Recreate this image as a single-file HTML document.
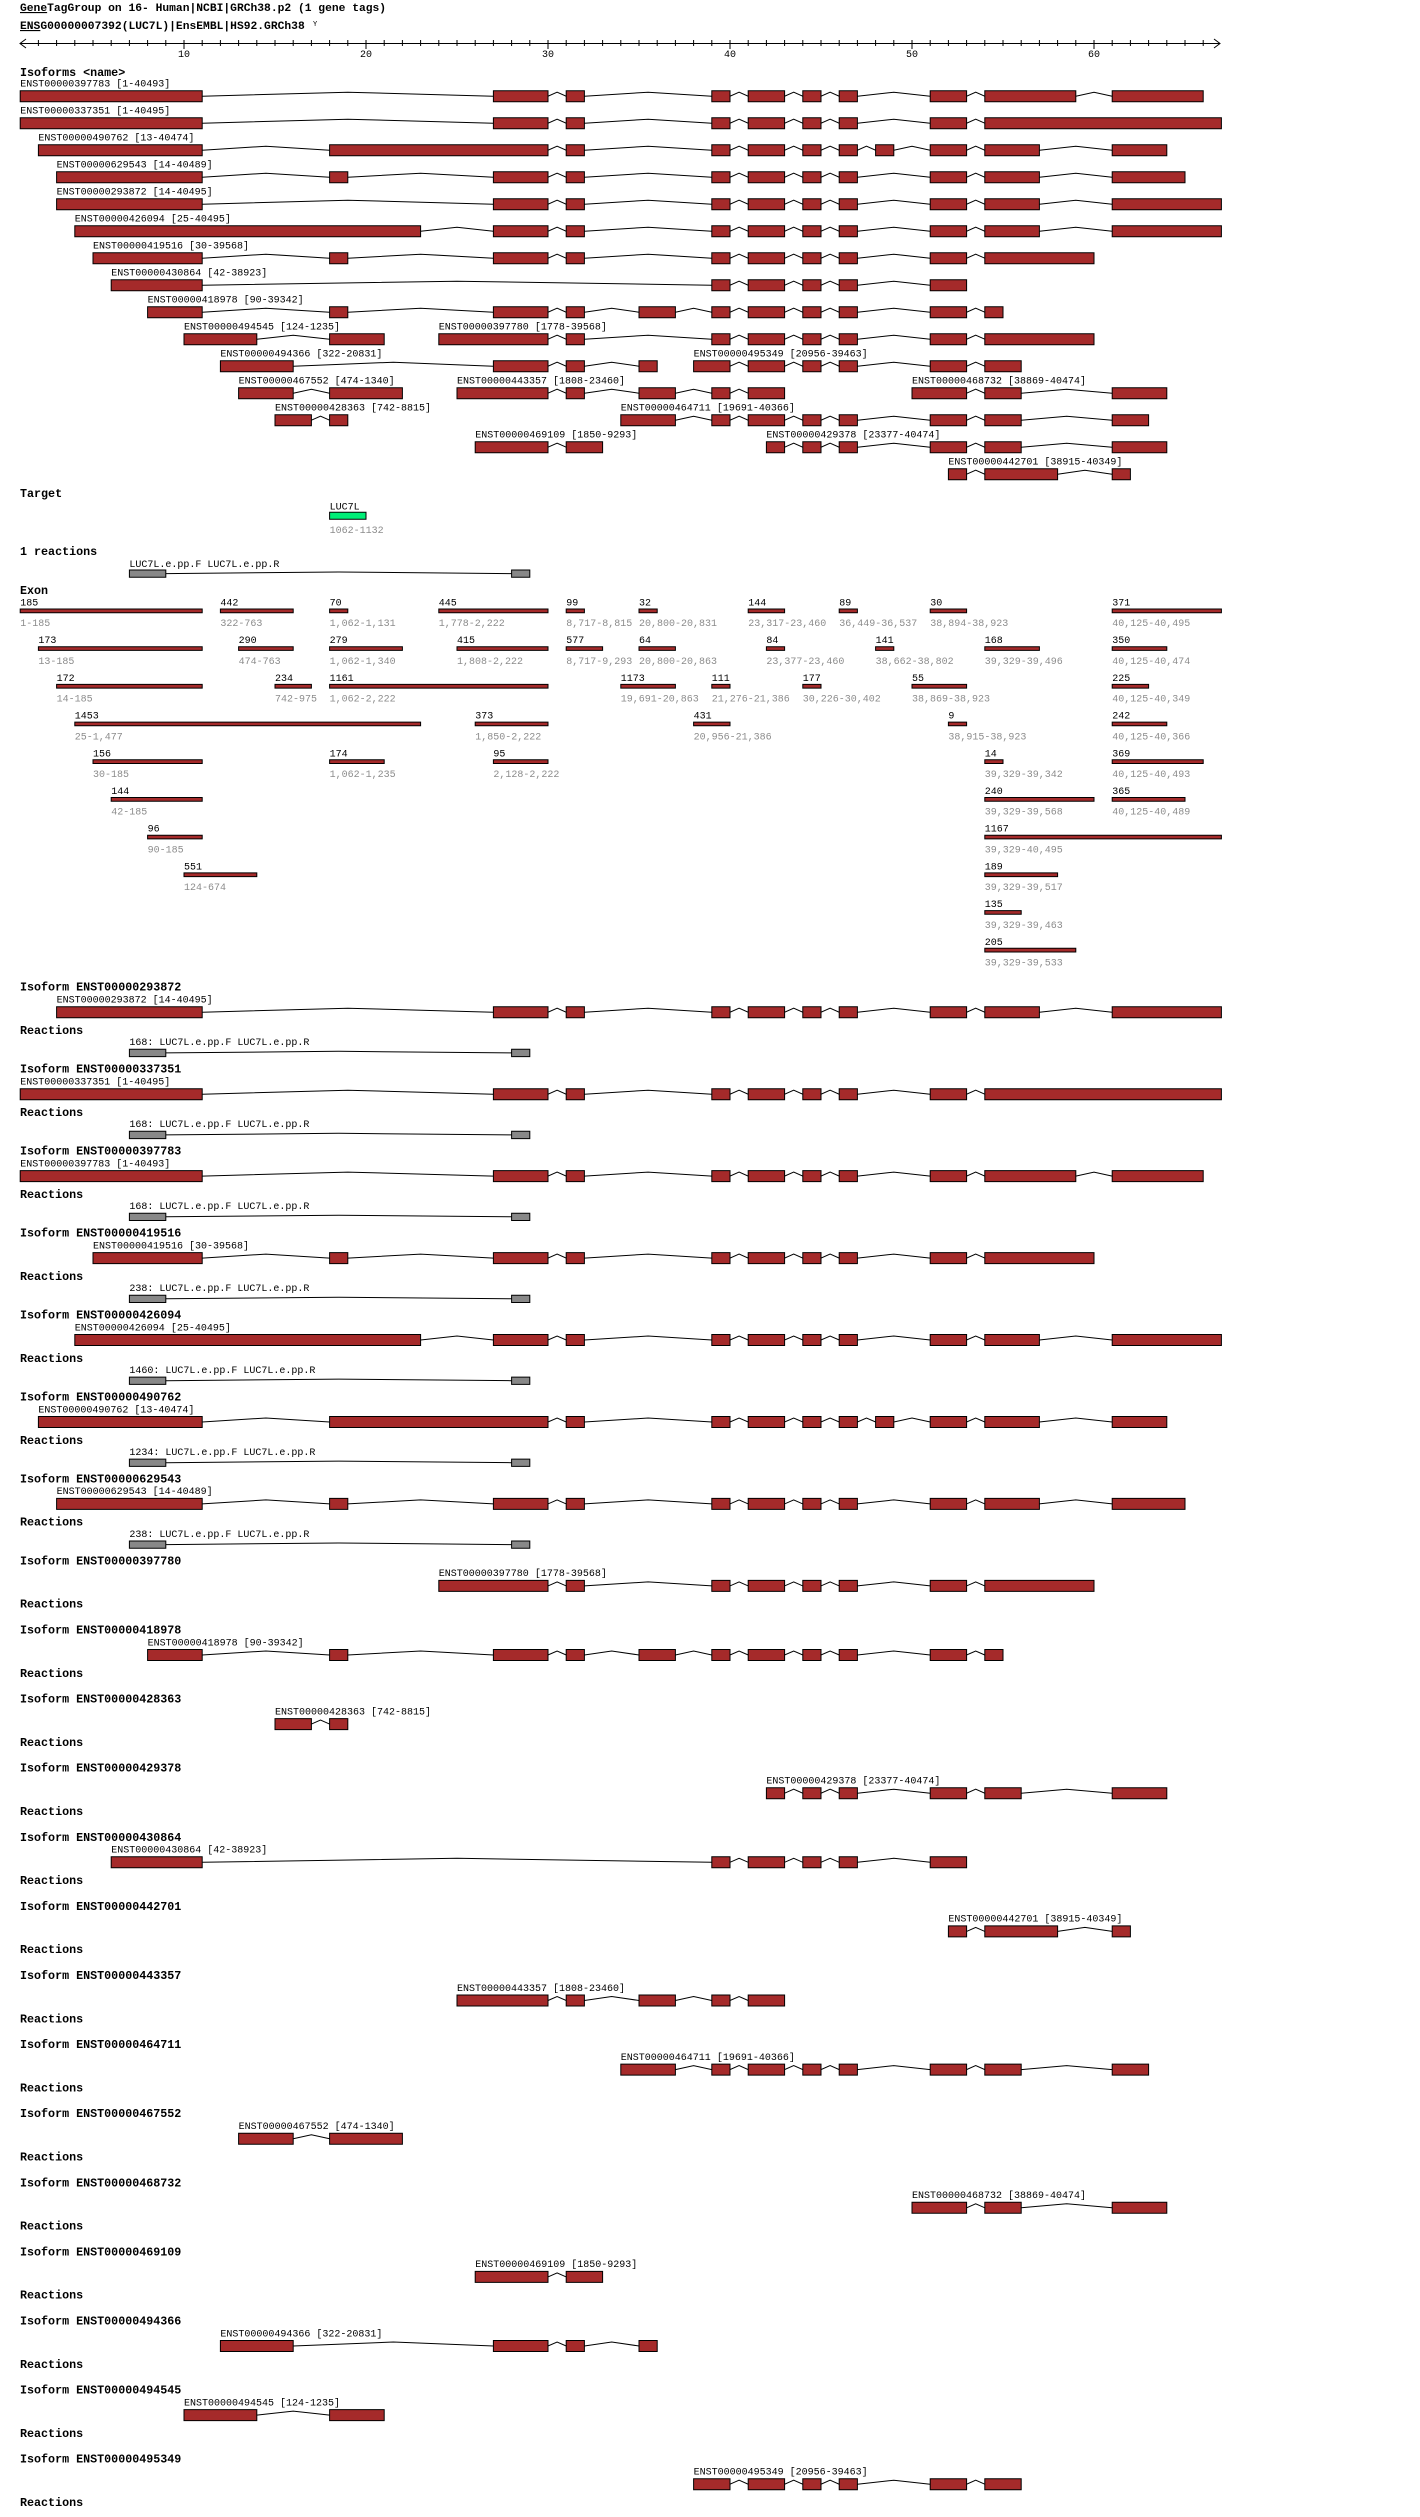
<!DOCTYPE html>
<html><head><meta charset="utf-8"><style>
html,body{margin:0;padding:0;background:#fff;}
svg{display:block;}
text{font-family:"Liberation Mono",monospace;font-size:10px;fill:#000;}
.b{font-weight:bold;font-size:11.7px;}
.h{font-weight:bold;font-size:11.3px;}
.g{fill:#8c8c8c;}
.e{fill:#a52a2a;stroke:#000;stroke-width:1;vector-effect:non-scaling-stroke;}
.gr{fill:#888;stroke:#000;stroke-width:1;vector-effect:non-scaling-stroke;}
.gn{fill:#00ee77;stroke:#000;stroke-width:1;vector-effect:non-scaling-stroke;}
.l{fill:none;stroke:#000;stroke-width:1;vector-effect:non-scaling-stroke;}
</style></head><body>
<svg width="1420" height="2517" viewBox="0 0 1420 2517" xmlns="http://www.w3.org/2000/svg">
<defs>
<pattern id="tk" patternUnits="userSpaceOnUse" x="37.9" y="0" width="18.2" height="100"><rect x="0" y="40" width="1" height="6" fill="#000"/></pattern>
<g id="m397783"><polyline class="l" points="11,5.5 19,1.5 27,5.5 30,5.5 30.5,1.5 31,5.5 32,5.5 35.5,1.5 39,5.5 40,5.5 40.5,1.5 41,5.5 43,5.5 43.5,1.5 44,5.5 45,5.5 45.5,1.5 46,5.5 47,5.5 49,1.5 51,5.5 53,5.5 53.5,1.5 54,5.5 59,5.5 60,1.5 61,5.5"/>
<rect class="e" x="1" y="0" width="10" height="11"/><rect class="e" x="27" y="0" width="3" height="11"/><rect class="e" x="31" y="0" width="1" height="11"/><rect class="e" x="39" y="0" width="1" height="11"/><rect class="e" x="41" y="0" width="2" height="11"/><rect class="e" x="44" y="0" width="1" height="11"/><rect class="e" x="46" y="0" width="1" height="11"/><rect class="e" x="51" y="0" width="2" height="11"/><rect class="e" x="54" y="0" width="5" height="11"/><rect class="e" x="61" y="0" width="5" height="11"/></g>
<g id="m337351"><polyline class="l" points="11,5.5 19,1.5 27,5.5 30,5.5 30.5,1.5 31,5.5 32,5.5 35.5,1.5 39,5.5 40,5.5 40.5,1.5 41,5.5 43,5.5 43.5,1.5 44,5.5 45,5.5 45.5,1.5 46,5.5 47,5.5 49,1.5 51,5.5 53,5.5 53.5,1.5 54,5.5"/>
<rect class="e" x="1" y="0" width="10" height="11"/><rect class="e" x="27" y="0" width="3" height="11"/><rect class="e" x="31" y="0" width="1" height="11"/><rect class="e" x="39" y="0" width="1" height="11"/><rect class="e" x="41" y="0" width="2" height="11"/><rect class="e" x="44" y="0" width="1" height="11"/><rect class="e" x="46" y="0" width="1" height="11"/><rect class="e" x="51" y="0" width="2" height="11"/><rect class="e" x="54" y="0" width="13" height="11"/></g>
<g id="m490762"><polyline class="l" points="11,5.5 14.5,1.5 18,5.5 30,5.5 30.5,1.5 31,5.5 32,5.5 35.5,1.5 39,5.5 40,5.5 40.5,1.5 41,5.5 43,5.5 43.5,1.5 44,5.5 45,5.5 45.5,1.5 46,5.5 47,5.5 47.5,1.5 48,5.5 49,5.5 50,1.5 51,5.5 53,5.5 53.5,1.5 54,5.5 57,5.5 59,1.5 61,5.5"/>
<rect class="e" x="2" y="0" width="9" height="11"/><rect class="e" x="18" y="0" width="12" height="11"/><rect class="e" x="31" y="0" width="1" height="11"/><rect class="e" x="39" y="0" width="1" height="11"/><rect class="e" x="41" y="0" width="2" height="11"/><rect class="e" x="44" y="0" width="1" height="11"/><rect class="e" x="46" y="0" width="1" height="11"/><rect class="e" x="48" y="0" width="1" height="11"/><rect class="e" x="51" y="0" width="2" height="11"/><rect class="e" x="54" y="0" width="3" height="11"/><rect class="e" x="61" y="0" width="3" height="11"/></g>
<g id="m629543"><polyline class="l" points="11,5.5 14.5,1.5 18,5.5 19,5.5 23,1.5 27,5.5 30,5.5 30.5,1.5 31,5.5 32,5.5 35.5,1.5 39,5.5 40,5.5 40.5,1.5 41,5.5 43,5.5 43.5,1.5 44,5.5 45,5.5 45.5,1.5 46,5.5 47,5.5 49,1.5 51,5.5 53,5.5 53.5,1.5 54,5.5 57,5.5 59,1.5 61,5.5"/>
<rect class="e" x="3" y="0" width="8" height="11"/><rect class="e" x="18" y="0" width="1" height="11"/><rect class="e" x="27" y="0" width="3" height="11"/><rect class="e" x="31" y="0" width="1" height="11"/><rect class="e" x="39" y="0" width="1" height="11"/><rect class="e" x="41" y="0" width="2" height="11"/><rect class="e" x="44" y="0" width="1" height="11"/><rect class="e" x="46" y="0" width="1" height="11"/><rect class="e" x="51" y="0" width="2" height="11"/><rect class="e" x="54" y="0" width="3" height="11"/><rect class="e" x="61" y="0" width="4" height="11"/></g>
<g id="m293872"><polyline class="l" points="11,5.5 19,1.5 27,5.5 30,5.5 30.5,1.5 31,5.5 32,5.5 35.5,1.5 39,5.5 40,5.5 40.5,1.5 41,5.5 43,5.5 43.5,1.5 44,5.5 45,5.5 45.5,1.5 46,5.5 47,5.5 49,1.5 51,5.5 53,5.5 53.5,1.5 54,5.5 57,5.5 59,1.5 61,5.5"/>
<rect class="e" x="3" y="0" width="8" height="11"/><rect class="e" x="27" y="0" width="3" height="11"/><rect class="e" x="31" y="0" width="1" height="11"/><rect class="e" x="39" y="0" width="1" height="11"/><rect class="e" x="41" y="0" width="2" height="11"/><rect class="e" x="44" y="0" width="1" height="11"/><rect class="e" x="46" y="0" width="1" height="11"/><rect class="e" x="51" y="0" width="2" height="11"/><rect class="e" x="54" y="0" width="3" height="11"/><rect class="e" x="61" y="0" width="6" height="11"/></g>
<g id="m426094"><polyline class="l" points="23,5.5 25,1.5 27,5.5 30,5.5 30.5,1.5 31,5.5 32,5.5 35.5,1.5 39,5.5 40,5.5 40.5,1.5 41,5.5 43,5.5 43.5,1.5 44,5.5 45,5.5 45.5,1.5 46,5.5 47,5.5 49,1.5 51,5.5 53,5.5 53.5,1.5 54,5.5 57,5.5 59,1.5 61,5.5"/>
<rect class="e" x="4" y="0" width="19" height="11"/><rect class="e" x="27" y="0" width="3" height="11"/><rect class="e" x="31" y="0" width="1" height="11"/><rect class="e" x="39" y="0" width="1" height="11"/><rect class="e" x="41" y="0" width="2" height="11"/><rect class="e" x="44" y="0" width="1" height="11"/><rect class="e" x="46" y="0" width="1" height="11"/><rect class="e" x="51" y="0" width="2" height="11"/><rect class="e" x="54" y="0" width="3" height="11"/><rect class="e" x="61" y="0" width="6" height="11"/></g>
<g id="m419516"><polyline class="l" points="11,5.5 14.5,1.5 18,5.5 19,5.5 23,1.5 27,5.5 30,5.5 30.5,1.5 31,5.5 32,5.5 35.5,1.5 39,5.5 40,5.5 40.5,1.5 41,5.5 43,5.5 43.5,1.5 44,5.5 45,5.5 45.5,1.5 46,5.5 47,5.5 49,1.5 51,5.5 53,5.5 53.5,1.5 54,5.5"/>
<rect class="e" x="5" y="0" width="6" height="11"/><rect class="e" x="18" y="0" width="1" height="11"/><rect class="e" x="27" y="0" width="3" height="11"/><rect class="e" x="31" y="0" width="1" height="11"/><rect class="e" x="39" y="0" width="1" height="11"/><rect class="e" x="41" y="0" width="2" height="11"/><rect class="e" x="44" y="0" width="1" height="11"/><rect class="e" x="46" y="0" width="1" height="11"/><rect class="e" x="51" y="0" width="2" height="11"/><rect class="e" x="54" y="0" width="6" height="11"/></g>
<g id="m430864"><polyline class="l" points="11,5.5 25,1.5 39,5.5 40,5.5 40.5,1.5 41,5.5 43,5.5 43.5,1.5 44,5.5 45,5.5 45.5,1.5 46,5.5 47,5.5 49,1.5 51,5.5"/>
<rect class="e" x="6" y="0" width="5" height="11"/><rect class="e" x="39" y="0" width="1" height="11"/><rect class="e" x="41" y="0" width="2" height="11"/><rect class="e" x="44" y="0" width="1" height="11"/><rect class="e" x="46" y="0" width="1" height="11"/><rect class="e" x="51" y="0" width="2" height="11"/></g>
<g id="m418978"><polyline class="l" points="11,5.5 14.5,1.5 18,5.5 19,5.5 23,1.5 27,5.5 30,5.5 30.5,1.5 31,5.5 32,5.5 33.5,1.5 35,5.5 37,5.5 38,1.5 39,5.5 40,5.5 40.5,1.5 41,5.5 43,5.5 43.5,1.5 44,5.5 45,5.5 45.5,1.5 46,5.5 47,5.5 49,1.5 51,5.5 53,5.5 53.5,1.5 54,5.5"/>
<rect class="e" x="8" y="0" width="3" height="11"/><rect class="e" x="18" y="0" width="1" height="11"/><rect class="e" x="27" y="0" width="3" height="11"/><rect class="e" x="31" y="0" width="1" height="11"/><rect class="e" x="35" y="0" width="2" height="11"/><rect class="e" x="39" y="0" width="1" height="11"/><rect class="e" x="41" y="0" width="2" height="11"/><rect class="e" x="44" y="0" width="1" height="11"/><rect class="e" x="46" y="0" width="1" height="11"/><rect class="e" x="51" y="0" width="2" height="11"/><rect class="e" x="54" y="0" width="1" height="11"/></g>
<g id="m494545"><polyline class="l" points="14,5.5 16,1.5 18,5.5"/><rect class="e" x="10" y="0" width="4" height="11"/><rect class="e" x="18" y="0" width="3" height="11"/></g>
<g id="m397780"><polyline class="l" points="30,5.5 30.5,1.5 31,5.5 32,5.5 35.5,1.5 39,5.5 40,5.5 40.5,1.5 41,5.5 43,5.5 43.5,1.5 44,5.5 45,5.5 45.5,1.5 46,5.5 47,5.5 49,1.5 51,5.5 53,5.5 53.5,1.5 54,5.5"/>
<rect class="e" x="24" y="0" width="6" height="11"/><rect class="e" x="31" y="0" width="1" height="11"/><rect class="e" x="39" y="0" width="1" height="11"/><rect class="e" x="41" y="0" width="2" height="11"/><rect class="e" x="44" y="0" width="1" height="11"/><rect class="e" x="46" y="0" width="1" height="11"/><rect class="e" x="51" y="0" width="2" height="11"/><rect class="e" x="54" y="0" width="6" height="11"/></g>
<g id="m494366"><polyline class="l" points="16,5.5 21.5,1.5 27,5.5 30,5.5 30.5,1.5 31,5.5 32,5.5 33.5,1.5 35,5.5"/>
<rect class="e" x="12" y="0" width="4" height="11"/><rect class="e" x="27" y="0" width="3" height="11"/><rect class="e" x="31" y="0" width="1" height="11"/><rect class="e" x="35" y="0" width="1" height="11"/></g>
<g id="m495349"><polyline class="l" points="40,5.5 40.5,1.5 41,5.5 43,5.5 43.5,1.5 44,5.5 45,5.5 45.5,1.5 46,5.5 47,5.5 49,1.5 51,5.5 53,5.5 53.5,1.5 54,5.5"/>
<rect class="e" x="38" y="0" width="2" height="11"/><rect class="e" x="41" y="0" width="2" height="11"/><rect class="e" x="44" y="0" width="1" height="11"/><rect class="e" x="46" y="0" width="1" height="11"/><rect class="e" x="51" y="0" width="2" height="11"/><rect class="e" x="54" y="0" width="2" height="11"/></g>
<g id="m467552"><polyline class="l" points="16,5.5 17,1.5 18,5.5"/><rect class="e" x="13" y="0" width="3" height="11"/><rect class="e" x="18" y="0" width="4" height="11"/></g>
<g id="m443357"><polyline class="l" points="30,5.5 30.5,1.5 31,5.5 32,5.5 33.5,1.5 35,5.5 37,5.5 38,1.5 39,5.5 40,5.5 40.5,1.5 41,5.5"/>
<rect class="e" x="25" y="0" width="5" height="11"/><rect class="e" x="31" y="0" width="1" height="11"/><rect class="e" x="35" y="0" width="2" height="11"/><rect class="e" x="39" y="0" width="1" height="11"/><rect class="e" x="41" y="0" width="2" height="11"/></g>
<g id="m468732"><polyline class="l" points="53,5.5 53.5,1.5 54,5.5 56,5.5 58.5,1.5 61,5.5"/><rect class="e" x="50" y="0" width="3" height="11"/><rect class="e" x="54" y="0" width="2" height="11"/><rect class="e" x="61" y="0" width="3" height="11"/></g>
<g id="m428363"><polyline class="l" points="17,5.5 17.5,1.5 18,5.5"/><rect class="e" x="15" y="0" width="2" height="11"/><rect class="e" x="18" y="0" width="1" height="11"/></g>
<g id="m464711"><polyline class="l" points="37,5.5 38,1.5 39,5.5 40,5.5 40.5,1.5 41,5.5 43,5.5 43.5,1.5 44,5.5 45,5.5 45.5,1.5 46,5.5 47,5.5 49,1.5 51,5.5 53,5.5 53.5,1.5 54,5.5 56,5.5 58.5,1.5 61,5.5"/>
<rect class="e" x="34" y="0" width="3" height="11"/><rect class="e" x="39" y="0" width="1" height="11"/><rect class="e" x="41" y="0" width="2" height="11"/><rect class="e" x="44" y="0" width="1" height="11"/><rect class="e" x="46" y="0" width="1" height="11"/><rect class="e" x="51" y="0" width="2" height="11"/><rect class="e" x="54" y="0" width="2" height="11"/><rect class="e" x="61" y="0" width="2" height="11"/></g>
<g id="m469109"><polyline class="l" points="30,5.5 30.5,1.5 31,5.5"/><rect class="e" x="26" y="0" width="4" height="11"/><rect class="e" x="31" y="0" width="2" height="11"/></g>
<g id="m429378"><polyline class="l" points="43,5.5 43.5,1.5 44,5.5 45,5.5 45.5,1.5 46,5.5 47,5.5 49,1.5 51,5.5 53,5.5 53.5,1.5 54,5.5 56,5.5 58.5,1.5 61,5.5"/>
<rect class="e" x="42" y="0" width="1" height="11"/><rect class="e" x="44" y="0" width="1" height="11"/><rect class="e" x="46" y="0" width="1" height="11"/><rect class="e" x="51" y="0" width="2" height="11"/><rect class="e" x="54" y="0" width="2" height="11"/><rect class="e" x="61" y="0" width="3" height="11"/></g>
<g id="m442701"><polyline class="l" points="53,5.5 53.5,1.5 54,5.5 58,5.5 59.5,1.5 61,5.5"/><rect class="e" x="52" y="0" width="1" height="11"/><rect class="e" x="54" y="0" width="4" height="11"/><rect class="e" x="61" y="0" width="1" height="11"/></g>
<g id="mr"><polyline class="l" points="9,3.6 18.5,2 28,3.6"/><rect class="gr" x="7" y="0" width="2" height="7.3"/><rect class="gr" x="28" y="0" width="1" height="7.3"/></g>
</defs>

<!-- header -->
<text class="h" x="20" y="11"><tspan text-decoration="underline">Gene</tspan>TagGroup on 16- Human|NCBI|GRCh38.p2 (1 gene tags)</text>
<text class="h" x="20" y="29"><tspan text-decoration="underline">ENS</tspan>G00000007392(LUC7L)|EnsEMBL|HS92.GRCh38</text>
<text x="313" y="26" style="font-size:7px">Y</text>
<!-- axis -->
<line x1="20" y1="43.5" x2="1220" y2="43.5" stroke="#000"/>
<polyline points="26,39 20,43.5 26,48" fill="none" stroke="#000"/>
<polyline points="1214,39 1220,43.5 1214,48" fill="none" stroke="#000"/>
<rect x="37" y="40" width="1168" height="6" fill="url(#tk)"/>
<path d="M184 40v9M366 40v9M548 40v9M730 40v9M912 40v9M1094 40v9" stroke="#000"/>
<g style="font-size:10px"><text x="178" y="57">10</text><text x="360" y="57">20</text><text x="542" y="57">30</text><text x="724" y="57">40</text><text x="906" y="57">50</text><text x="1088" y="57">60</text></g>

<text class="b" x="20" y="76">Isoforms &lt;name&gt;</text>
<text x="20.2" y="86.7">ENST00000397783 [1-40493]</text>
<text x="20.2" y="113.7">ENST00000337351 [1-40495]</text>
<text x="38.4" y="140.7">ENST00000490762 [13-40474]</text>
<text x="56.6" y="167.7">ENST00000629543 [14-40489]</text>
<text x="56.6" y="194.7">ENST00000293872 [14-40495]</text>
<text x="74.8" y="221.7">ENST00000426094 [25-40495]</text>
<text x="93" y="248.7">ENST00000419516 [30-39568]</text>
<text x="111.2" y="275.7">ENST00000430864 [42-38923]</text>
<text x="147.6" y="302.7">ENST00000418978 [90-39342]</text>
<text x="184" y="329.7">ENST00000494545 [124-1235]</text><text x="438.8" y="329.7">ENST00000397780 [1778-39568]</text>
<text x="220.4" y="356.7">ENST00000494366 [322-20831]</text><text x="693.6" y="356.7">ENST00000495349 [20956-39463]</text>
<text x="238.6" y="383.7">ENST00000467552 [474-1340]</text><text x="457" y="383.7">ENST00000443357 [1808-23460]</text><text x="912" y="383.7">ENST00000468732 [38869-40474]</text>
<text x="275" y="410.7">ENST00000428363 [742-8815]</text><text x="620.8" y="410.7">ENST00000464711 [19691-40366]</text>
<text x="475.2" y="437.7">ENST00000469109 [1850-9293]</text><text x="766.4" y="437.7">ENST00000429378 [23377-40474]</text>
<text x="948.4" y="464.7">ENST00000442701 [38915-40349]</text>

<g transform="translate(2 0) scale(18.2 1)">
<use href="#m397783" y="90.7"/>
<use href="#m337351" y="117.7"/>
<use href="#m490762" y="144.7"/>
<use href="#m629543" y="171.7"/>
<use href="#m293872" y="198.7"/>
<use href="#m426094" y="225.7"/>
<use href="#m419516" y="252.7"/>
<use href="#m430864" y="279.7"/>
<use href="#m418978" y="306.7"/>
<use href="#m494545" y="333.7"/><use href="#m397780" y="333.7"/>
<use href="#m494366" y="360.7"/><use href="#m495349" y="360.7"/>
<use href="#m467552" y="387.7"/><use href="#m443357" y="387.7"/><use href="#m468732" y="387.7"/>
<use href="#m428363" y="414.7"/><use href="#m464711" y="414.7"/>
<use href="#m469109" y="441.7"/><use href="#m429378" y="441.7"/>
<use href="#m442701" y="468.7"/>

<rect class="gn" x="18" y="512.3" width="2" height="7"/>
<use href="#mr" y="570"/>

<!-- exon bars -->
<rect class="e" x="1" y="609" width="10" height="3.7"/><rect class="e" x="12" y="609" width="4" height="3.7"/><rect class="e" x="18" y="609" width="1" height="3.7"/><rect class="e" x="24" y="609" width="6" height="3.7"/><rect class="e" x="31" y="609" width="1" height="3.7"/><rect class="e" x="35" y="609" width="1" height="3.7"/><rect class="e" x="41" y="609" width="2" height="3.7"/><rect class="e" x="46" y="609" width="1" height="3.7"/><rect class="e" x="51" y="609" width="2" height="3.7"/><rect class="e" x="61" y="609" width="6" height="3.7"/>
<rect class="e" x="2" y="646.7" width="9" height="3.7"/><rect class="e" x="13" y="646.7" width="3" height="3.7"/><rect class="e" x="18" y="646.7" width="4" height="3.7"/><rect class="e" x="25" y="646.7" width="5" height="3.7"/><rect class="e" x="31" y="646.7" width="2" height="3.7"/><rect class="e" x="35" y="646.7" width="2" height="3.7"/><rect class="e" x="42" y="646.7" width="1" height="3.7"/><rect class="e" x="48" y="646.7" width="1" height="3.7"/><rect class="e" x="54" y="646.7" width="3" height="3.7"/><rect class="e" x="61" y="646.7" width="3" height="3.7"/>
<rect class="e" x="3" y="684.4" width="8" height="3.7"/><rect class="e" x="15" y="684.4" width="2" height="3.7"/><rect class="e" x="18" y="684.4" width="12" height="3.7"/><rect class="e" x="34" y="684.4" width="3" height="3.7"/><rect class="e" x="39" y="684.4" width="1" height="3.7"/><rect class="e" x="44" y="684.4" width="1" height="3.7"/><rect class="e" x="50" y="684.4" width="3" height="3.7"/><rect class="e" x="61" y="684.4" width="2" height="3.7"/>
<rect class="e" x="4" y="722.1" width="19" height="3.7"/><rect class="e" x="26" y="722.1" width="4" height="3.7"/><rect class="e" x="38" y="722.1" width="2" height="3.7"/><rect class="e" x="52" y="722.1" width="1" height="3.7"/><rect class="e" x="61" y="722.1" width="3" height="3.7"/>
<rect class="e" x="5" y="759.8" width="6" height="3.7"/><rect class="e" x="18" y="759.8" width="3" height="3.7"/><rect class="e" x="27" y="759.8" width="3" height="3.7"/><rect class="e" x="54" y="759.8" width="1" height="3.7"/><rect class="e" x="61" y="759.8" width="5" height="3.7"/>
<rect class="e" x="6" y="797.5" width="5" height="3.7"/><rect class="e" x="54" y="797.5" width="6" height="3.7"/><rect class="e" x="61" y="797.5" width="4" height="3.7"/>
<rect class="e" x="8" y="835.2" width="3" height="3.7"/><rect class="e" x="54" y="835.2" width="13" height="3.7"/>
<rect class="e" x="10" y="872.9" width="4" height="3.7"/><rect class="e" x="54" y="872.9" width="4" height="3.7"/>
<rect class="e" x="54" y="910.6" width="2" height="3.7"/>
<rect class="e" x="54" y="948.3" width="5" height="3.7"/>

<!-- sections -->
<use href="#m293872" y="1006.7"/><use href="#mr" y="1049.3"/>
<use href="#m337351" y="1088.7"/><use href="#mr" y="1131.3"/>
<use href="#m397783" y="1170.6"/><use href="#mr" y="1213.2"/>
<use href="#m419516" y="1252.6"/><use href="#mr" y="1295.2"/>
<use href="#m426094" y="1334.5"/><use href="#mr" y="1377.1"/>
<use href="#m490762" y="1416.5"/><use href="#mr" y="1459.1"/>
<use href="#m629543" y="1498.4"/><use href="#mr" y="1541"/>
<use href="#m397780" y="1580.4"/>
<use href="#m418978" y="1649.5"/>
<use href="#m428363" y="1718.6"/>
<use href="#m429378" y="1787.7"/>
<use href="#m430864" y="1856.8"/>
<use href="#m442701" y="1925.9"/>
<use href="#m443357" y="1995"/>
<use href="#m464711" y="2064.1"/>
<use href="#m467552" y="2133.2"/>
<use href="#m468732" y="2202.3"/>
<use href="#m469109" y="2271.4"/>
<use href="#m494366" y="2340.5"/>
<use href="#m494545" y="2409.6"/>
<use href="#m495349" y="2478.7"/>
</g>

<text class="b" x="20" y="497">Target</text>
<text x="329.6" y="509.5">LUC7L</text>
<text class="g" x="329.6" y="532.8">1062-1132</text>
<text class="b" x="20" y="555">1 reactions</text>
<text x="129.4" y="566.8">LUC7L.e.pp.F LUC7L.e.pp.R</text>
<text class="b" x="20" y="594">Exon</text>

<!-- exon labels -->
<g>
<text x="20.2" y="605.5">185</text><text class="g" x="20.2" y="626.2">1-185</text>
<text x="220.4" y="605.5">442</text><text class="g" x="220.4" y="626.2">322-763</text>
<text x="329.6" y="605.5">70</text><text class="g" x="329.6" y="626.2">1,062-1,131</text>
<text x="438.8" y="605.5">445</text><text class="g" x="438.8" y="626.2">1,778-2,222</text>
<text x="566.2" y="605.5">99</text><text class="g" x="566.2" y="626.2">8,717-8,815</text>
<text x="639" y="605.5">32</text><text class="g" x="639" y="626.2">20,800-20,831</text>
<text x="748.2" y="605.5">144</text><text class="g" x="748.2" y="626.2">23,317-23,460</text>
<text x="839.2" y="605.5">89</text><text class="g" x="839.2" y="626.2">36,449-36,537</text>
<text x="930.2" y="605.5">30</text><text class="g" x="930.2" y="626.2">38,894-38,923</text>
<text x="1112.2" y="605.5">371</text><text class="g" x="1112.2" y="626.2">40,125-40,495</text>

<text x="38.4" y="643.2">173</text><text class="g" x="38.4" y="663.9">13-185</text>
<text x="238.6" y="643.2">290</text><text class="g" x="238.6" y="663.9">474-763</text>
<text x="329.6" y="643.2">279</text><text class="g" x="329.6" y="663.9">1,062-1,340</text>
<text x="457" y="643.2">415</text><text class="g" x="457" y="663.9">1,808-2,222</text>
<text x="566.2" y="643.2">577</text><text class="g" x="566.2" y="663.9">8,717-9,293</text>
<text x="639" y="643.2">64</text><text class="g" x="639" y="663.9">20,800-20,863</text>
<text x="766.4" y="643.2">84</text><text class="g" x="766.4" y="663.9">23,377-23,460</text>
<text x="875.6" y="643.2">141</text><text class="g" x="875.6" y="663.9">38,662-38,802</text>
<text x="984.8" y="643.2">168</text><text class="g" x="984.8" y="663.9">39,329-39,496</text>
<text x="1112.2" y="643.2">350</text><text class="g" x="1112.2" y="663.9">40,125-40,474</text>

<text x="56.6" y="680.9">172</text><text class="g" x="56.6" y="701.6">14-185</text>
<text x="275" y="680.9">234</text><text class="g" x="275" y="701.6">742-975</text>
<text x="329.6" y="680.9">1161</text><text class="g" x="329.6" y="701.6">1,062-2,222</text>
<text x="620.8" y="680.9">1173</text><text class="g" x="620.8" y="701.6">19,691-20,863</text>
<text x="711.8" y="680.9">111</text><text class="g" x="711.8" y="701.6">21,276-21,386</text>
<text x="802.8" y="680.9">177</text><text class="g" x="802.8" y="701.6">30,226-30,402</text>
<text x="912" y="680.9">55</text><text class="g" x="912" y="701.6">38,869-38,923</text>
<text x="1112.2" y="680.9">225</text><text class="g" x="1112.2" y="701.6">40,125-40,349</text>

<text x="74.8" y="718.6">1453</text><text class="g" x="74.8" y="739.3">25-1,477</text>
<text x="475.2" y="718.6">373</text><text class="g" x="475.2" y="739.3">1,850-2,222</text>
<text x="693.6" y="718.6">431</text><text class="g" x="693.6" y="739.3">20,956-21,386</text>
<text x="948.4" y="718.6">9</text><text class="g" x="948.4" y="739.3">38,915-38,923</text>
<text x="1112.2" y="718.6">242</text><text class="g" x="1112.2" y="739.3">40,125-40,366</text>

<text x="93" y="756.3">156</text><text class="g" x="93" y="777">30-185</text>
<text x="329.6" y="756.3">174</text><text class="g" x="329.6" y="777">1,062-1,235</text>
<text x="493.4" y="756.3">95</text><text class="g" x="493.4" y="777">2,128-2,222</text>
<text x="984.8" y="756.3">14</text><text class="g" x="984.8" y="777">39,329-39,342</text>
<text x="1112.2" y="756.3">369</text><text class="g" x="1112.2" y="777">40,125-40,493</text>

<text x="111.2" y="794">144</text><text class="g" x="111.2" y="814.7">42-185</text>
<text x="984.8" y="794">240</text><text class="g" x="984.8" y="814.7">39,329-39,568</text>
<text x="1112.2" y="794">365</text><text class="g" x="1112.2" y="814.7">40,125-40,489</text>

<text x="147.6" y="831.7">96</text><text class="g" x="147.6" y="852.4">90-185</text>
<text x="984.8" y="831.7">1167</text><text class="g" x="984.8" y="852.4">39,329-40,495</text>

<text x="184" y="869.4">551</text><text class="g" x="184" y="890.1">124-674</text>
<text x="984.8" y="869.4">189</text><text class="g" x="984.8" y="890.1">39,329-39,517</text>

<text x="984.8" y="907.1">135</text><text class="g" x="984.8" y="927.8">39,329-39,463</text>
<text x="984.8" y="944.8">205</text><text class="g" x="984.8" y="965.5">39,329-39,533</text>
</g>

<!-- section texts -->
<text class="b" x="20" y="990.7">Isoform ENST00000293872</text><text x="56.6" y="1002.5">ENST00000293872 [14-40495]</text><text class="b" x="20" y="1034">Reactions</text><text x="129.4" y="1045.2">168: LUC7L.e.pp.F LUC7L.e.pp.R</text>
<text class="b" x="20" y="1072.7">Isoform ENST00000337351</text><text x="20.2" y="1084.5">ENST00000337351 [1-40495]</text><text class="b" x="20" y="1116">Reactions</text><text x="129.4" y="1127.2">168: LUC7L.e.pp.F LUC7L.e.pp.R</text>
<text class="b" x="20" y="1154.6">Isoform ENST00000397783</text><text x="20.2" y="1166.4">ENST00000397783 [1-40493]</text><text class="b" x="20" y="1197.9">Reactions</text><text x="129.4" y="1209.1">168: LUC7L.e.pp.F LUC7L.e.pp.R</text>
<text class="b" x="20" y="1236.6">Isoform ENST00000419516</text><text x="93" y="1248.4">ENST00000419516 [30-39568]</text><text class="b" x="20" y="1279.9">Reactions</text><text x="129.4" y="1291.1">238: LUC7L.e.pp.F LUC7L.e.pp.R</text>
<text class="b" x="20" y="1318.5">Isoform ENST00000426094</text><text x="74.8" y="1330.3">ENST00000426094 [25-40495]</text><text class="b" x="20" y="1361.8">Reactions</text><text x="129.4" y="1373">1460: LUC7L.e.pp.F LUC7L.e.pp.R</text>
<text class="b" x="20" y="1400.5">Isoform ENST00000490762</text><text x="38.4" y="1412.3">ENST00000490762 [13-40474]</text><text class="b" x="20" y="1443.8">Reactions</text><text x="129.4" y="1455">1234: LUC7L.e.pp.F LUC7L.e.pp.R</text>
<text class="b" x="20" y="1482.4">Isoform ENST00000629543</text><text x="56.6" y="1494.2">ENST00000629543 [14-40489]</text><text class="b" x="20" y="1525.7">Reactions</text><text x="129.4" y="1536.9">238: LUC7L.e.pp.F LUC7L.e.pp.R</text>
<text class="b" x="20" y="1564.4">Isoform ENST00000397780</text><text x="438.8" y="1576.2">ENST00000397780 [1778-39568]</text><text class="b" x="20" y="1607.7">Reactions</text>
<text class="b" x="20" y="1633.5">Isoform ENST00000418978</text><text x="147.6" y="1645.3">ENST00000418978 [90-39342]</text><text class="b" x="20" y="1676.8">Reactions</text>
<text class="b" x="20" y="1702.6">Isoform ENST00000428363</text><text x="275" y="1714.4">ENST00000428363 [742-8815]</text><text class="b" x="20" y="1745.9">Reactions</text>
<text class="b" x="20" y="1771.7">Isoform ENST00000429378</text><text x="766.4" y="1783.5">ENST00000429378 [23377-40474]</text><text class="b" x="20" y="1815">Reactions</text>
<text class="b" x="20" y="1840.8">Isoform ENST00000430864</text><text x="111.2" y="1852.6">ENST00000430864 [42-38923]</text><text class="b" x="20" y="1884.1">Reactions</text>
<text class="b" x="20" y="1909.9">Isoform ENST00000442701</text><text x="948.4" y="1921.7">ENST00000442701 [38915-40349]</text><text class="b" x="20" y="1953.2">Reactions</text>
<text class="b" x="20" y="1979">Isoform ENST00000443357</text><text x="457" y="1990.8">ENST00000443357 [1808-23460]</text><text class="b" x="20" y="2022.3">Reactions</text>
<text class="b" x="20" y="2048.1">Isoform ENST00000464711</text><text x="620.8" y="2059.9">ENST00000464711 [19691-40366]</text><text class="b" x="20" y="2091.4">Reactions</text>
<text class="b" x="20" y="2117.2">Isoform ENST00000467552</text><text x="238.6" y="2129">ENST00000467552 [474-1340]</text><text class="b" x="20" y="2160.5">Reactions</text>
<text class="b" x="20" y="2186.3">Isoform ENST00000468732</text><text x="912" y="2198.1">ENST00000468732 [38869-40474]</text><text class="b" x="20" y="2229.6">Reactions</text>
<text class="b" x="20" y="2255.4">Isoform ENST00000469109</text><text x="475.2" y="2267.2">ENST00000469109 [1850-9293]</text><text class="b" x="20" y="2298.7">Reactions</text>
<text class="b" x="20" y="2324.5">Isoform ENST00000494366</text><text x="220.4" y="2336.3">ENST00000494366 [322-20831]</text><text class="b" x="20" y="2367.8">Reactions</text>
<text class="b" x="20" y="2393.6">Isoform ENST00000494545</text><text x="184" y="2405.4">ENST00000494545 [124-1235]</text><text class="b" x="20" y="2436.9">Reactions</text>
<text class="b" x="20" y="2462.7">Isoform ENST00000495349</text><text x="693.6" y="2474.5">ENST00000495349 [20956-39463]</text><text class="b" x="20" y="2506">Reactions</text>
</svg>
</body></html>
